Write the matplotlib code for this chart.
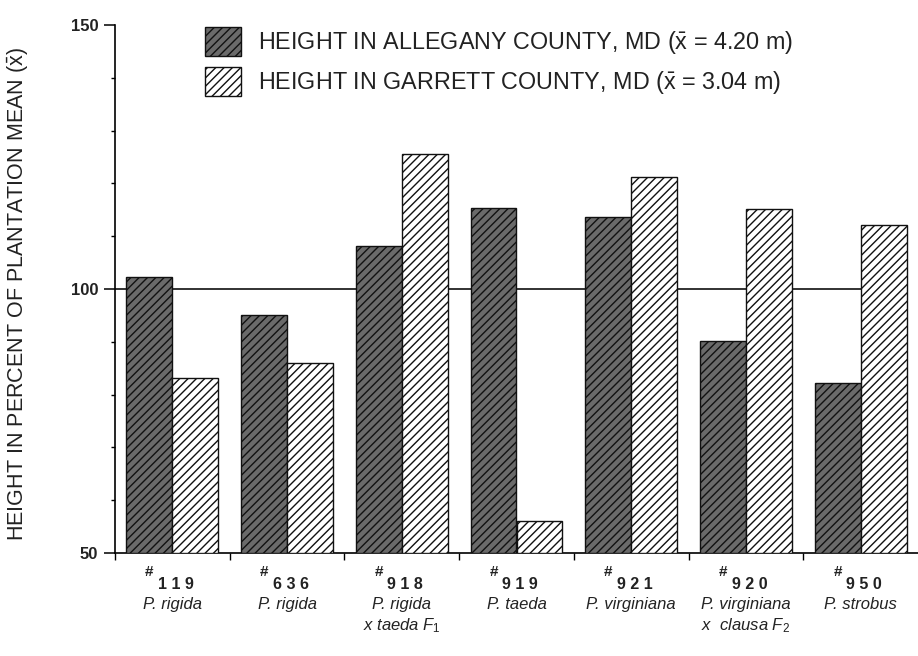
import matplotlib
matplotlib.use("Agg")
import matplotlib.pyplot as plt
import numpy as np
from matplotlib.ticker import MultipleLocator

plt.rcParams['font.family'] = ['Liberation Sans', 'DejaVu Sans']
plt.rcParams['mathtext.fontset'] = 'custom'
plt.rcParams['mathtext.rm'] = 'Liberation Sans'
plt.rcParams['mathtext.it'] = 'Liberation Sans:italic'
plt.rcParams['hatch.linewidth'] = 1.0

# ---- data ----
clone_numbers = ["119", "636", "918", "919", "921", "920", "950"]
species_line1 = ["P. rigida", "P. rigida", "P. rigida", "P. taeda",
                 "P. virginiana", "P. virginiana", "P. strobus"]
species_line2 = ["", "", r"x taeda $F_1$", "", "", r"x  clausa $F_2$", ""]
allegany = [102.3, 95.1, 108.1, 115.3, 113.6, 90.2, 82.2]
garrett = [83.1, 86.0, 125.6, 56.0, 121.2, 115.2, 112.1]
legend_labels = [r"HEIGHT IN ALLEGANY COUNTY, MD ($\bar{\mathrm{x}}$ = 4.20 m)",
                 r"HEIGHT IN GARRETT COUNTY, MD ($\bar{\mathrm{x}}$ = 3.04 m)"]
ylabel = r"HEIGHT IN PERCENT OF PLANTATION MEAN ($\bar{\mathrm{x}}$)"

fig = plt.figure(figsize=(9.18, 6.56), dpi=100)
ax = fig.add_axes([115/918, 1-553/656, (918-115)/918, (553-25)/656])

x = np.arange(len(clone_numbers))
w = 0.40
base = 50
b1 = ax.bar(x - w/2, np.array(allegany) - base, w, bottom=base,
            facecolor='#6a6a6a', edgecolor='#111111', hatch='////',
            linewidth=1.0, zorder=3, label=legend_labels[0])
b2 = ax.bar(x + w/2, np.array(garrett) - base, w, bottom=base,
            facecolor='white', edgecolor='#111111', hatch='////',
            linewidth=1.0, zorder=3, label=legend_labels[1])

ax.hlines(100, -0.5, x[-1] + w/2, color='#222222', linewidth=1.3, zorder=2)

ax.set_xlim(-0.5, len(x) - 0.5)
ax.set_ylim(50, 150)
ax.spines['top'].set_visible(False)
ax.spines['right'].set_visible(False)
ax.spines['left'].set_bounds(50, 150)
ax.spines['left'].set_linewidth(1.2)
ax.spines['bottom'].set_linewidth(1.2)

ax.set_yticks([50, 100, 150])
ax.yaxis.set_minor_locator(MultipleLocator(10))
ax.tick_params(axis='y', which='major', length=8, width=1.1, labelsize=12, pad=4)
ax.tick_params(axis='y', which='minor', length=3, width=1.0)
for lab in ax.get_yticklabels():
    lab.set_fontweight('bold')
    lab.set_color('#222222')

ax.set_xticks(np.arange(-0.5, len(x) - 0.5, 1.0))
ax.tick_params(axis='x', which='major', length=5, width=1.0, labelbottom=False)

ax.set_ylabel(ylabel, fontsize=15.5, color='#222222')
ax.yaxis.set_label_coords(-0.104, 0.49)

tr = ax.get_xaxis_transform()
for i in range(len(x)):
    ax.text(x[i] - 0.20, -0.036, "#", transform=tr, ha='center', va='center',
            fontsize=11, fontweight='bold', color='#222222')
    ax.text(x[i] + 0.03, -0.060, " ".join(clone_numbers[i]), transform=tr,
            ha='center', va='center', fontsize=11.5, fontweight='bold', color='#222222')
    ax.text(x[i], -0.097, species_line1[i], transform=tr, ha='center', va='center',
            fontsize=12, style='italic', color='#222222')
    if species_line2[i]:
        ax.text(x[i], -0.137, species_line2[i], transform=tr, ha='center', va='center',
                fontsize=12, style='italic', color='#222222')

ax.legend(handles=[b1, b2], loc='upper left',
          bbox_to_anchor=(205/918, 1 - 27/656), bbox_transform=fig.transFigure,
          frameon=False, fontsize=16.8, handlelength=1.55, handleheight=1.55,
          handletextpad=0.7, labelspacing=0.45, borderpad=0, borderaxespad=0,
          labelcolor='#222222')

fig.savefig("out.png", dpi=100)
